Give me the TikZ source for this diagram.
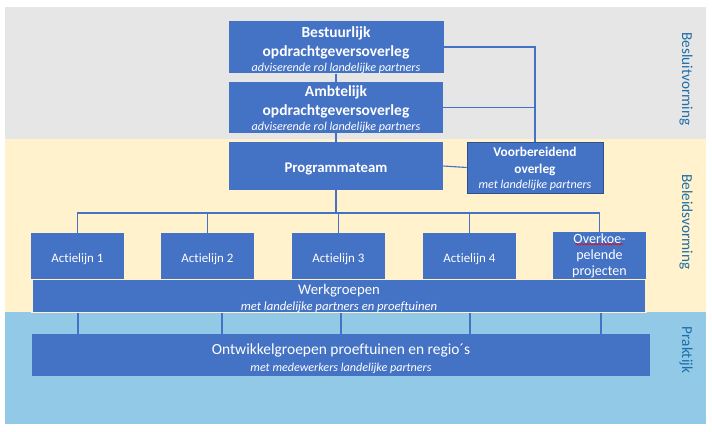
\documentclass[tikz,border=0pt]{standalone}
\usepackage{fontspec}
\setmainfont[Ligatures=NoCommon]{Carlito}
\usetikzlibrary{decorations.pathmorphing}
\definecolor{boxblue}{HTML}{4472C4}
\definecolor{bandgray}{HTML}{E6E6E6}
\definecolor{bandyellow}{HTML}{FFF2CC}
\definecolor{bandblue}{HTML}{91C9E6}
\definecolor{labelblue}{HTML}{1F6EA8}
\newcommand{\sub}[1]{{\fontsize{8.6}{10}\selectfont\mdseries\itshape #1}}
\newcommand{\padtop}[1]{\rule{0pt}{#1}}
\begin{document}
\begin{tikzpicture}[x=0.025cm, y=-0.025cm,
  box/.style={fill=boxblue, text=white, align=center, inner sep=0pt},
  title/.style={font=\fontsize{11}{13.5}\selectfont\bfseries},
  act/.style={box, font=\fontsize{9.2}{12}\selectfont, minimum width=93*0.025cm, minimum height=47*0.025cm},
  link/.style={draw=boxblue, line width=0.8pt},
  band/.style={rotate=-90, text=labelblue, font=\fontsize{10.8}{12}\selectfont}]
\useasboundingbox (0,0) rectangle (712,432);
% bands
\fill[bandgray] (5,7) rectangle (706,139);
\fill[bandyellow] (5,139) rectangle (706,312);
\fill[bandblue] (5,312) rectangle (706,424);
\node[band] (besl) at (686,79) {Besluitvorming};
\node[band] (beleid) at (686,222) {Beleidsvorming};
\node[band] (prak) at (686,350) {Praktijk};
% top
\node[box, title, minimum width=215*0.025cm, minimum height=50*0.025cm] (best) at (336,47)
  {\padtop{12pt}Bestuurlijk\\opdrachtgeversoverleg\\[-3pt]\sub{adviserende rol landelijke partners}};
\node[box, title, minimum width=214*0.025cm, minimum height=51*0.025cm] (amb) at (336,107.5)
  {\padtop{10pt}Ambtelijk\\opdrachtgeversoverleg\\[-3pt]\sub{adviserende rol landelijke partners}};
\node[box, title, font=\fontsize{10.5}{13}\selectfont\bfseries, minimum width=214*0.025cm, minimum height=48*0.025cm] (prog) at (336,166) {\padtop{11.5pt}Programmateam};
\node[box, draw=boxblue!70!black, font=\fontsize{9.5}{11.5}\selectfont\bfseries, minimum width=136*0.025cm, minimum height=51*0.025cm] (voor) at (535,167.5)
  {\padtop{9pt}Voorbereidend\\overleg\\[-0.5pt]\sub{met landelijke partners}};
% actielijnen
\node[act] (act1) at (77.5,256.5) {\padtop{10.6pt}Actielijn 1};
\node[act] (act2) at (207.5,256.5) {\padtop{10.6pt}Actielijn 2};
\node[act] (act3) at (338.5,256.5) {\padtop{10.6pt}Actielijn 3};
\node[act] (act4) at (469.5,256.5) {\padtop{10.6pt}Actielijn 4};
\node[act, font=\fontsize{10}{11.5}\selectfont, minimum height=48*0.025cm] (over) at (599.5,256) {Overkoe-\\pelende\\projecten};
\node[box, draw=bandyellow, line width=0.8pt, minimum width=614*0.025cm, minimum height=32*0.025cm] (werk) at (339,296)
  {{\fontsize{10.5}{11.5}\selectfont\padtop{11pt}Werkgroepen}\\[-0.5pt]{\fontsize{9}{10}\selectfont\itshape met landelijke partners en proeftuinen}};
\node[box, minimum width=618*0.025cm, minimum height=42*0.025cm] (ontw) at (341,355)
  {{\fontsize{11}{13}\selectfont\padtop{13pt}Ontwikkelgroepen proeftuinen en regio´s}\\\sub{met medewerkers landelijke partners}};
% spelling mark
\draw[red, line width=0.4pt, decorate, decoration={snake, amplitude=0.5pt, segment length=2pt}]
  ([shift={(-24,12.5)}]over.north) -- ++(48,0);
% connectors
\draw[link] (best.south) -- (amb.north);
\draw[link] (amb.south) -- (prog.north);
\draw[link] (best.east) -| (voor.north);
\draw[link] (amb.east) -| (voor.north);
\draw[link] (prog.east) -- (voor.west);
\coordinate (bus) at (336,213);
\draw[link] (prog.south) -- (bus);
\draw[link] (act1.north) |- (over.north |- bus) -- (over.north);
\foreach \a in {act2,act3,act4}
  \draw[link] (\a.north) -- (\a.north |- bus);
\foreach \x in {78,222,341,470,601}
  \draw[link] (werk.south -| \x,0) -- (ontw.north -| \x,0);
\end{tikzpicture}
\end{document}
